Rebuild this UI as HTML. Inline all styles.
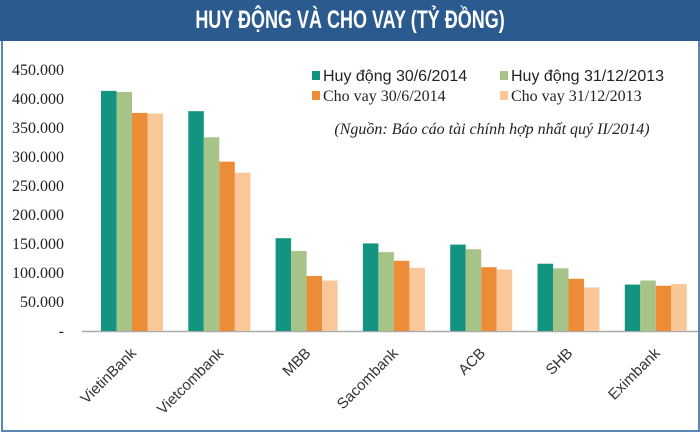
<!DOCTYPE html>
<html><head><meta charset="utf-8"><style>
body{margin:0;width:700px;height:434px;overflow:hidden;background:#fff;font-family:"Liberation Sans",sans-serif}
#frame{position:absolute;left:1px;top:0;width:695px;height:430px;border:2px solid #5b86b5;border-top:none;box-sizing:content-box}
#title{position:absolute;left:0;top:0;width:700px;height:41px;background:#2b5a8e}
#title span{position:absolute;left:350px;top:0;transform:translateX(-50%) scaleX(0.72);white-space:nowrap;color:#fff;font:bold 25px "Liberation Sans",sans-serif;line-height:41px}
</style></head><body>
<div id="frame"></div>
<div id="title"><span>HUY ĐỘNG VÀ CHO VAY (TỶ ĐỒNG)</span></div>
<svg id="chart" width="700" height="434" style="position:absolute;left:0;top:0"></svg>
<script>
const categories=["VietinBank","Vietcombank","MBB","Sacombank","ACB","SHB","Eximbank"];
const huyDong2014=[414000,379000,160000,151000,149000,116000,80000];
const huyDong2013=[412000,334000,138000,136000,141000,108000,87000];
const choVay2014=[376000,292000,95000,121000,110000,90000,78000];
const choVay2013=[375000,273000,87000,109000,106000,75000,81000];
const seriesNames=["Huy động 30/6/2014","Huy động 31/12/2013","Cho vay 30/6/2014","Cho vay 31/12/2013"];
const yTicks=[0,50000,100000,150000,200000,250000,300000,350000,400000,450000];
const yTickLabels=["-","50.000","100.000","150.000","200.000","250.000","300.000","350.000","400.000","450.000"];
const colors=["#139480","#a6c488","#ec8c36","#f9c798"];
const series=[huyDong2014,huyDong2013,choVay2014,choVay2013];
const NS="http://www.w3.org/2000/svg",svg=document.getElementById('chart');
const y=v=>331-v*0.00058;
const xc=i=>132+i*87.3;
function el(t,a,p){const e=document.createElementNS(NS,t);for(const k in a)e.setAttribute(k,a[k]);(p||svg).appendChild(e);return e;}
yTicks.forEach((t,i)=>{
 const tx=el('text',{x:64,y:y(t)+5,'text-anchor':'end','font-size':16,'font-family':'Liberation Serif, serif',fill:'#222'});
 tx.textContent=yTickLabels[i];
 
 
});
const ax=el('line',{x1:82,x2:698,y1:331.5,y2:331.5,stroke:'#aaa','stroke-width':1.5});


const bw=15.5;
categories.forEach((c,i)=>{
 series.forEach((s,j)=>{
  const r=el('rect',{x:xc(i)-2*bw+j*bw,y:y(s[i]),width:bw,height:331-y(s[i]),fill:colors[j]});
  
  
 });
 const cx=xc(i)+5,cy=354;
 const t=el('text',{x:cx,y:cy,'text-anchor':'end','font-size':15,fill:'#333',transform:`rotate(-45 ${cx} ${cy})`});
 t.textContent=c;
 
 
});
const lg=[[312,77],[500,77],[312,97],[500,97]];
seriesNames.forEach((n,j)=>{
 const r=el('rect',{x:lg[j][0],y:lg[j][1]-6,width:8,height:9,fill:colors[j]});
 
 
 const t=el('text',{x:lg[j][0]+11,y:lg[j][1]+4,'font-size':j<2?16:16,'font-family':j<2?'Liberation Sans, sans-serif':'Liberation Serif, serif',fill:'#222'});
 t.textContent=n;
 
 
});
const src=el('text',{x:492,y:134,'text-anchor':'middle','font-size':16,'font-style':'italic','font-family':'Liberation Serif, serif',fill:'#222'});
src.textContent="(Nguồn: Báo cáo tài chính hợp nhất quý II/2014)";


</script>
</body></html>
